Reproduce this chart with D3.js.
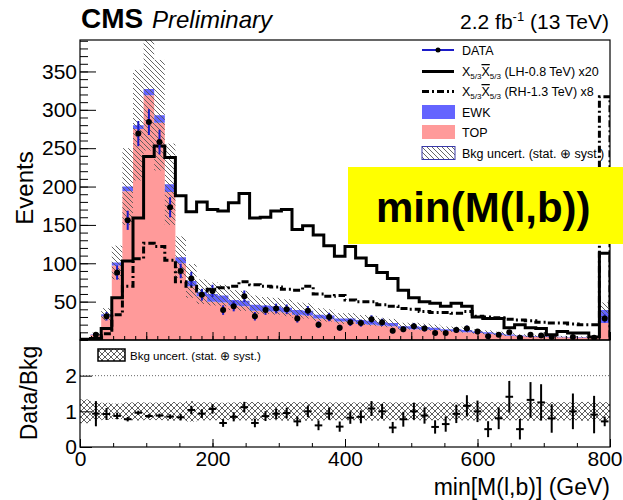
<!DOCTYPE html>
<html>
<head>
<meta charset="utf-8">
<script src="https://cdn.jsdelivr.net/npm/d3@7"></script>
<style>
  body { margin: 0; background: #fff; }
  text { font-family: "Liberation Sans", Arial, sans-serif; }
</style>
</head>
<body>
<div class="chart"></div>
<script>
// 50 bins of 16 GeV, last bin holds the overflow
const binEdges = d3.range(0, 801, 16);

const topBkg = [0.5, 7, 31, 97, 194, 275, 319, 283, 193, 100,
  70, 57, 50, 49, 45, 44, 38, 37, 37, 36,
  33, 32, 28, 27, 24, 24, 21, 20, 19, 18,
  15, 14, 13.5, 13, 12, 11, 10, 9, 8, 7,
  5.5, 4.8, 4.2, 4, 4, 3.6, 3.3, 3.2, 2.8, 22];

const ewkBkg = [0.1, 0.5, 2.5, 4, 6, 5, 8, 10, 10, 8,
  7, 6, 10, 9, 7, 7, 8, 8, 7, 6,
  6, 6, 5, 5, 4, 4, 5, 5, 4, 4,
  3, 4, 3.5, 3, 2, 3, 3, 2, 2, 1.7,
  1.6, 1.2, 1.1, 0.8, 1, 0.7, 0.7, 0.6, 0.5, 17];

const bkgUnc = [0.2, 2, 8, 22, 50, 72, 80, 72, 53, 27,
  22, 16, 15, 14, 13, 13, 12, 11, 11, 11,
  10, 10, 8.5, 8, 7, 7, 6.5, 6.5, 6, 5.5,
  4.5, 4.5, 4.3, 4, 3.6, 3.5, 3.3, 2.8, 2.6, 2.2,
  1.8, 1.5, 1.4, 1.2, 1.3, 1.1, 1, 1, 0.9, 10];

const dataCounts = [0, 7, 31, 88, 156, 269, 284, 258, 173, 90,
  80, 59, 64, 39, 44, 57, 31, 39, 41, 40,
  28, 38, 20, 30, 16, 23, 22, 27, 23, 12,
  14, 18, 15, 9, 9, 13, 15, 11, 5, 7,
  10, 3, 7, 6, 4, 0, 4, 0, 3, 28];

const sigLH = [1, 2, 15, 55, 103, 159, 239, 253, 238, 188,
  167, 180, 170, 168, 179, 191, 159, 160, 168, 170,
  144, 149, 137, 123, 109, 122, 107, 97, 88, 80,
  65, 55, 50, 48, 44, 48, 44, 30, 28, 28,
  16, 20, 16, 15, 7, 11, 9, 9, 4, 113];

const sigRH = [0, 1, 8, 33, 70, 106, 126, 122, 104, 76,
  70, 64, 66, 68, 70, 76, 72, 70, 69, 66,
  65, 70, 60, 57, 58, 52, 50, 50, 46, 44,
  41, 40, 37, 36, 36, 35, 37, 31, 30, 29,
  27, 26, 25, 23, 22, 22, 21, 20, 20, 317];

const yTicksMain = [50, 100, 150, 200, 250, 300, 350];
const xTicksLabel = [0, 200, 400, 600, 800];
const yTicksRatio = [0, 1, 2];

const width = 623, height = 500;
const svg = d3.select('.chart').append('svg')
  .attr('width', width).attr('height', height)
  .style('display', 'block');

const x = d3.scaleLinear().domain([0, 800]).range([80, 610]);
const y = d3.scaleLinear().domain([0, 391]).range([340, 40]);
const yr = d3.scaleLinear().domain([0, 3]).range([447, 340]);

const total = topBkg.map((v, i) => v + ewkBkg[i]);

const defs = svg.append('defs');
const hatch = defs.append('pattern').attr('id', 'hatch')
  .attr('patternUnits', 'userSpaceOnUse').attr('width', 5).attr('height', 5);
hatch.append('path').attr('d', 'M0,0 L5,5 M-1,4 L1,6 M4,-1 L6,1')
  .attr('stroke', '#555').attr('stroke-width', 0.9);
const cross = defs.append('pattern').attr('id', 'cross')
  .attr('patternUnits', 'userSpaceOnUse').attr('width', 6).attr('height', 6);
cross.append('path').attr('d', 'M0,0 L6,6 M-1,5 L1,7 M5,-1 L7,1 M0,6 L6,0 M-1,1 L1,-1 M5,7 L7,5')
  .attr('stroke', '#333').attr('stroke-width', 0.8);
defs.append('clipPath').attr('id', 'clipMain').append('rect')
  .attr('x', 80).attr('y', 40).attr('width', 530).attr('height', 300);
defs.append('clipPath').attr('id', 'clipRatio').append('rect')
  .attr('x', 80).attr('y', 340).attr('width', 530).attr('height', 107);

const steps = (lo, hi) => {
  const pts = [];
  lo.forEach((v, i) => {
    pts.push([binEdges[i], v, hi[i]]);
    pts.push([binEdges[i + 1], v, hi[i]]);
  });
  return pts;
};
const area = d3.area().x(d => x(d[0])).y0(d => y(d[1])).y1(d => y(d[2]));

const main = svg.append('g').attr('clip-path', 'url(#clipMain)');

// stacked backgrounds
main.append('path').datum(steps(topBkg.map(() => 0), topBkg))
  .attr('d', area).attr('fill', '#ff9a9a');
main.append('path').datum(steps(topBkg, total))
  .attr('d', area).attr('fill', '#6464ff');

// uncertainty band
main.selectAll('rect.unc').data(total).enter().append('rect')
  .attr('class', 'unc')
  .attr('x', (d, i) => x(binEdges[i]))
  .attr('width', (d, i) => x(binEdges[i + 1]) - x(binEdges[i]))
  .attr('y', (d, i) => y(d + bkgUnc[i]))
  .attr('height', (d, i) => y(Math.max(d - bkgUnc[i], 0)) - y(d + bkgUnc[i]))
  .attr('fill', 'url(#hatch)');

// signal histograms
const histLine = vals => {
  const pts = [[binEdges[0], 0]];
  vals.forEach((v, i) => { pts.push([binEdges[i], v]); pts.push([binEdges[i + 1], v]); });
  pts.push([binEdges[binEdges.length - 1], 0]);
  return d3.line().x(d => x(d[0])).y(d => y(d[1]))(pts);
};
main.append('path').attr('d', histLine(sigLH))
  .attr('fill', 'none').attr('stroke', '#000').attr('stroke-width', 3);
main.append('path').attr('d', histLine(sigRH))
  .attr('fill', 'none').attr('stroke', '#000').attr('stroke-width', 3)
  .attr('stroke-dasharray', '7,3,2,3');

// data
const pts = dataCounts.map((d, i) => ({ i, d, c: (binEdges[i] + binEdges[i + 1]) / 2 }))
  .filter(p => p.d > 0);
main.selectAll('line.err').data(pts).enter().append('line')
  .attr('x1', p => x(p.c)).attr('x2', p => x(p.c))
  .attr('y1', p => y(p.d + Math.sqrt(p.d))).attr('y2', p => y(Math.max(p.d - Math.sqrt(p.d), 0)))
  .attr('stroke', '#1c1cc8').attr('stroke-width', 2);
main.selectAll('circle.pt').data(pts).enter().append('circle')
  .attr('cx', p => x(p.c)).attr('cy', p => y(p.d)).attr('r', 3).attr('fill', '#000');

// main axes
const axMain = svg.append('g');
axMain.append('g').attr('transform', 'translate(80,0)')
  .call(d3.axisLeft(y).tickValues(d3.range(0, 391, 10)).tickSize(-8).tickFormat(''))
  .call(g => g.select('.domain').remove());
axMain.append('g').attr('transform', 'translate(80,0)')
  .call(d3.axisLeft(y).tickValues(yTicksMain).tickSize(-16).tickPadding(3))
  .call(g => g.select('.domain').remove())
  .selectAll('text').attr('font-size', 21).attr('fill', '#000');
axMain.append('g').attr('transform', 'translate(0,340)')
  .call(d3.axisBottom(x).tickValues(d3.range(0, 49).map(k => k * 100 / 6)).tickSize(-4).tickFormat(''))
  .call(g => g.select('.domain').remove());
axMain.append('g').attr('transform', 'translate(0,340)')
  .call(d3.axisBottom(x).tickValues(d3.range(0, 801, 100)).tickSize(-8).tickFormat(''))
  .call(g => g.select('.domain').remove());
svg.append('rect').attr('x', 80).attr('y', 40).attr('width', 530).attr('height', 300)
  .attr('fill', 'none').attr('stroke', '#000').attr('stroke-width', 1.2);

// ratio panel
const ratio = svg.append('g').attr('clip-path', 'url(#clipRatio)');
ratio.selectAll('rect.band').data(total).enter().append('rect')
  .attr('x', (d, i) => x(binEdges[i]))
  .attr('width', (d, i) => x(binEdges[i + 1]) - x(binEdges[i]))
  .attr('y', (d, i) => yr(1 + bkgUnc[i] / d))
  .attr('height', (d, i) => yr(1 - bkgUnc[i] / d) - yr(1 + bkgUnc[i] / d))
  .attr('fill', 'url(#cross)');
ratio.append('line').attr('x1', 80).attr('x2', 610).attr('y1', yr(2)).attr('y2', yr(2))
  .attr('stroke', '#666').attr('stroke-width', 1).attr('stroke-dasharray', '1,2');
const rpts = pts.map(p => ({ ...p, r: p.d / total[p.i], e: Math.sqrt(p.d) / total[p.i] }));
ratio.selectAll('line.rv').data(rpts).enter().append('line')
  .attr('x1', p => x(p.c)).attr('x2', p => x(p.c))
  .attr('y1', p => yr(p.r + p.e)).attr('y2', p => yr(p.r - p.e))
  .attr('stroke', '#000').attr('stroke-width', 2);
ratio.selectAll('line.rh').data(rpts).enter().append('line')
  .attr('x1', p => x(binEdges[p.i]) + 1.5).attr('x2', p => x(binEdges[p.i + 1]) - 1.5)
  .attr('y1', p => yr(p.r)).attr('y2', p => yr(p.r))
  .attr('stroke', '#000').attr('stroke-width', 2);

svg.append('g').attr('transform', 'translate(0,447)')
  .call(d3.axisBottom(x).tickValues(d3.range(0, 801, 50)).tickSize(-4).tickFormat(''))
  .call(g => g.select('.domain').remove());
svg.append('g').attr('transform', 'translate(0,447)')
  .call(d3.axisBottom(x).tickValues(xTicksLabel).tickSize(-8).tickPadding(4))
  .call(g => g.select('.domain').remove())
  .selectAll('text').attr('font-size', 21).attr('fill', '#000')
  .filter(d => d === 800).attr('text-anchor', 'end').attr('x', 12);
svg.append('g').attr('transform', 'translate(80,0)')
  .call(d3.axisLeft(yr).tickValues(yTicksRatio).tickSize(-12).tickPadding(3).tickFormat(d3.format('d')))
  .call(g => g.select('.domain').remove())
  .selectAll('text').attr('font-size', 21).attr('fill', '#000');
svg.append('rect').attr('x', 80).attr('y', 340).attr('width', 530).attr('height', 107)
  .attr('fill', 'none').attr('stroke', '#000').attr('stroke-width', 1.2);

// ratio legend
svg.append('rect').attr('x', 98).attr('y', 349).attr('width', 27).attr('height', 12)
  .attr('fill', 'url(#cross)').attr('stroke', '#000').attr('stroke-width', 1.5);
svg.append('text').attr('x', 130).attr('y', 360).attr('font-size', 11.5)
  .text('Bkg uncert. (stat. \u2295 syst.)');

// axis titles
svg.append('text').attr('transform', 'translate(33,188) rotate(-90)')
  .attr('text-anchor', 'middle').attr('font-size', 24).text('Events');
svg.append('text').attr('transform', 'translate(37,393) rotate(-90)')
  .attr('text-anchor', 'middle').attr('font-size', 23).text('Data/Bkg');
svg.append('text').attr('x', 610).attr('y', 495).attr('text-anchor', 'end')
  .attr('font-size', 23).text('min[M(l,b)] (GeV)');

// header
svg.append('text').attr('x', 81).attr('y', 28).attr('font-size', 28)
  .attr('font-weight', 'bold').text('CMS');
svg.append('text').attr('x', 152).attr('y', 28).attr('font-size', 24)
  .attr('font-style', 'italic').text('Preliminary');
const lumi = svg.append('text').attr('x', 609).attr('y', 29).attr('text-anchor', 'end').attr('font-size', 21);
lumi.append('tspan').text('2.2 fb');
lumi.append('tspan').attr('font-size', 13).attr('dy', -8).text('-1');
lumi.append('tspan').attr('dy', 8).text(' (13 TeV)');

// legend
const legY = [50, 71.5, 91.5, 112, 132, 153];
const leg = svg.append('g').attr('font-size', 12.5);
leg.append('line').attr('x1', 422).attr('x2', 454).attr('y1', legY[0]).attr('y2', legY[0])
  .attr('stroke', '#1c1cc8').attr('stroke-width', 2);
leg.append('circle').attr('cx', 438).attr('cy', legY[0]).attr('r', 2.5).attr('fill', '#000');
leg.append('line').attr('x1', 422).attr('x2', 454).attr('y1', legY[1]).attr('y2', legY[1])
  .attr('stroke', '#000').attr('stroke-width', 3);
leg.append('line').attr('x1', 422).attr('x2', 454).attr('y1', legY[2]).attr('y2', legY[2])
  .attr('stroke', '#000').attr('stroke-width', 3).attr('stroke-dasharray', '7,3,2,3');
leg.append('rect').attr('x', 422).attr('y', legY[3] - 7).attr('width', 33).attr('height', 14).attr('fill', '#6464ff');
leg.append('rect').attr('x', 422).attr('y', legY[4] - 7).attr('width', 33).attr('height', 14).attr('fill', '#ff9a9a');
leg.append('rect').attr('x', 422).attr('y', legY[5] - 6.5).attr('width', 33).attr('height', 13)
  .attr('fill', 'url(#hatch)').attr('stroke', '#3838a8').attr('stroke-width', 1);

const legText = (row, parts) => {
  const t = leg.append('text').attr('x', 462).attr('y', legY[row] + 4.5);
  parts.forEach(p => {
    const s = t.append('tspan').text(p.t);
    if (p.sub) s.attr('font-size', 8).attr('dy', 3);
    if (p.up) s.attr('dy', -3);
    if (p.bar) s.style('text-decoration', 'overline');
  });
};
legText(0, [{ t: 'DATA' }]);
legText(1, [{ t: 'X' }, { t: '5/3', sub: true }, { t: 'X', up: true, bar: true }, { t: '5/3', sub: true },
  { t: ' (LH-0.8 TeV) x20', up: true }]);
legText(2, [{ t: 'X' }, { t: '5/3', sub: true }, { t: 'X', up: true, bar: true }, { t: '5/3', sub: true },
  { t: ' (RH-1.3 TeV) x8', up: true }]);
legText(3, [{ t: 'EWK' }]);
legText(4, [{ t: 'TOP' }]);
legText(5, [{ t: 'Bkg uncert. (stat. \u2295 syst.)' }]);

// yellow overlay label
svg.append('rect').attr('x', 348).attr('y', 167).attr('width', 280).attr('height', 77).attr('fill', '#ffff00');
svg.append('text').attr('x', 376).attr('y', 222).attr('font-family', '"Open Sans", sans-serif')
  .attr('font-weight', 700).attr('font-size', 42).attr('fill', '#000').text('min(M(l,b))');
</script>
</body>
</html>
